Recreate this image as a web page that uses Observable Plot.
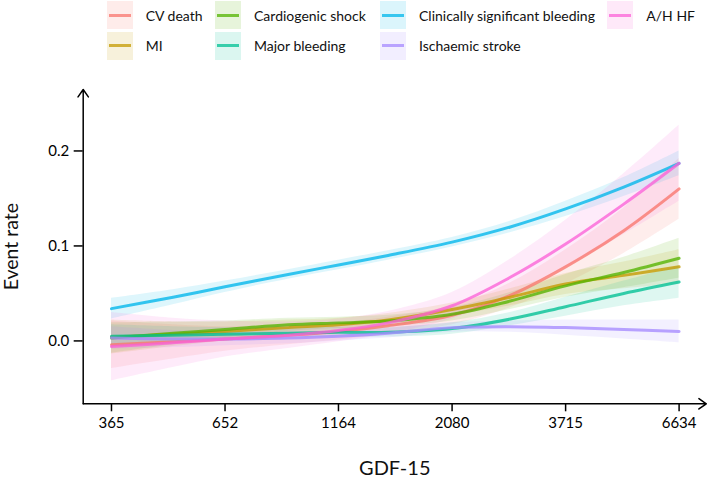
<!DOCTYPE html>
<html>
<head>
<meta charset="utf-8">
<script src="https://cdn.jsdelivr.net/npm/d3@7"></script>
<script src="https://cdn.jsdelivr.net/npm/@observablehq/plot@0.6"></script>
<style>
  html, body { margin: 0; padding: 0; background: #fff; }
  body { width: 709px; height: 482px; overflow: hidden; font-family: Lato, "Open Sans", sans-serif; }
  #legend { position: relative; height: 62px; width: 709px; }
  .item { position: absolute; display: flex; align-items: center; height: 28px; }
  .key { width: 26px; height: 28px; position: relative; flex: none; }
  .key span { position: absolute; left: 2px; right: 2px; top: 12.5px; height: 3px; }
  .lab { margin-left: 13px; font-size: 14px; color: #111; white-space: nowrap; }
  svg { display: block; }
</style>
</head>
<body>
<div id="legend"></div>
<div id="chart"></div>
<script>
// GDF-15 sample points (ng/L)
const gdf = [365, 500, 652, 900, 1164, 1500, 2080, 2800, 3715, 5000, 6634];

const seriesNames = ["CV death", "MI", "Cardiogenic shock", "Major bleeding",
  "Clinically significant bleeding", "Ischaemic stroke", "A/H HF"];
const seriesColors = ["#F8766D", "#C49A00", "#53B400", "#00C094", "#00B6EB", "#A58AFF", "#FB61D7"];

// Estimated event rates
const cvDeath  = [-0.004, -0.001, 0.002, 0.006, 0.010, 0.016, 0.027, 0.048, 0.078, 0.116, 0.160];
const mi       = [0.004, 0.007, 0.010, 0.014, 0.017, 0.022, 0.033, 0.046, 0.060, 0.069, 0.078];
const cardShock= [0.003, 0.008, 0.012, 0.017, 0.019, 0.021, 0.028, 0.042, 0.058, 0.072, 0.087];
const majBleed = [0.005, 0.006, 0.007, 0.008, 0.009, 0.009, 0.013, 0.023, 0.036, 0.050, 0.062];
const csBleed  = [0.034, 0.046, 0.057, 0.070, 0.080, 0.090, 0.104, 0.120, 0.139, 0.162, 0.187];
const isStroke = [0.003, 0.002, 0.002, 0.003, 0.005, 0.008, 0.014, 0.015, 0.014, 0.012, 0.010];
const ahHF     = [-0.006, -0.002, 0.002, 0.006, 0.011, 0.019, 0.037, 0.067, 0.102, 0.144, 0.187];

// Estimated confidence band half-widths
const cvDeathCI  = [0.025, 0.018, 0.013, 0.010, 0.009, 0.009, 0.010, 0.013, 0.018, 0.024, 0.032];
const miCI       = [0.018, 0.013, 0.010, 0.008, 0.007, 0.007, 0.007, 0.009, 0.011, 0.014, 0.018];
const cardShockCI= [0.016, 0.012, 0.009, 0.007, 0.006, 0.006, 0.007, 0.009, 0.012, 0.016, 0.021];
const majBleedCI = [0.012, 0.009, 0.007, 0.006, 0.005, 0.005, 0.006, 0.007, 0.010, 0.013, 0.017];
const csBleedCI  = [0.011, 0.008, 0.006, 0.005, 0.005, 0.005, 0.005, 0.006, 0.008, 0.010, 0.013];
const isStrokeCI = [0.012, 0.009, 0.007, 0.006, 0.005, 0.005, 0.005, 0.006, 0.008, 0.010, 0.012];
const ahHFCI     = [0.036, 0.026, 0.019, 0.014, 0.012, 0.012, 0.014, 0.019, 0.025, 0.032, 0.040];

const xTicks = [365, 652, 1164, 2080, 3715, 6634];
const yTicks = [0.0, 0.1, 0.2];
const xDomain = [315.9, 7623];
const yDomain = [-0.0662, 0.2647];

const means = [cvDeath, mi, cardShock, majBleed, csBleed, isStroke, ahHF];
const cis = [cvDeathCI, miCI, cardShockCI, majBleedCI, csBleedCI, isStrokeCI, ahHFCI];

const data = [];
seriesNames.forEach((s, k) => {
  gdf.forEach((g, i) => {
    data.push({series: s, g, y: means[k][i], lo: means[k][i] - cis[k][i], hi: means[k][i] + cis[k][i]});
  });
});

// Legend (filled by column, 2 rows)
const colLeft = [106.7, 215, 380, 607.3];
const legend = document.getElementById("legend");
seriesNames.forEach((s, k) => {
  const col = Math.floor(k / 2), row = k % 2;
  const c = d3.color(seriesColors[k]);
  const fill = c.copy({opacity: 0.14});
  const line = c.copy({opacity: 0.75});
  const div = document.createElement("div");
  div.className = "item";
  div.style.left = colLeft[col] + "px";
  div.style.top = (1 + row * 30.5) + "px";
  div.innerHTML = `<div class="key" style="background:${fill}"><span style="background:${line}"></span></div><div class="lab">${s}</div>`;
  legend.appendChild(div);
});

const W = 709, H = 420;
const axisLines = [
  {x1: xDomain[0], y1: yDomain[0], x2: xDomain[0], y2: yDomain[1]},
  {x1: xDomain[0], y1: yDomain[0], x2: xDomain[1], y2: yDomain[0]}
];

const chart = Plot.plot({
  width: W,
  height: H,
  marginLeft: 82.7,
  marginRight: 3.2,
  marginTop: 27,
  marginBottom: 78.7,
  style: {fontFamily: "Lato, 'Open Sans', sans-serif", fontSize: "15px", color: "#000", background: "#fff"},
  x: {type: "log", domain: xDomain, axis: null},
  y: {domain: yDomain, axis: null},
  color: {domain: seriesNames, range: seriesColors},
  marks: [
    Plot.areaY(data, {x: "g", y1: "lo", y2: "hi", z: "series", fill: "series", fillOpacity: 0.13, curve: "catmull-rom"}),
    Plot.lineY(data, {x: "g", y: "y", z: "series", stroke: "series", strokeWidth: 3, strokeOpacity: 0.78, curve: "catmull-rom"}),
    Plot.axisX({ticks: xTicks, tickFormat: d => String(d), tickSize: 8, tickPadding: 6, strokeWidth: 1.5, fontSize: 15, label: null}),
    Plot.axisY({ticks: yTicks, tickFormat: d3.format(".1f"), tickSize: 9, tickPadding: 5, strokeWidth: 1.5, fontSize: 15, label: null}),
    Plot.arrow(axisLines, {x1: "x1", y1: "y1", x2: "x2", y2: "y2", stroke: "#000", strokeWidth: 1.5, headLength: 9, headAngle: 70}),
    Plot.text(["GDF-15"], {frameAnchor: "bottom", dy: 71, fontSize: 20, fill: "#111", textAnchor: "middle"}),
    Plot.text(["Event rate"], {frameAnchor: "left", dx: -71, rotate: -90, fontSize: 19.5, fill: "#111", textAnchor: "middle", lineAnchor: "middle"})
  ]
});
document.getElementById("chart").appendChild(chart);
</script>
</body>
</html>
